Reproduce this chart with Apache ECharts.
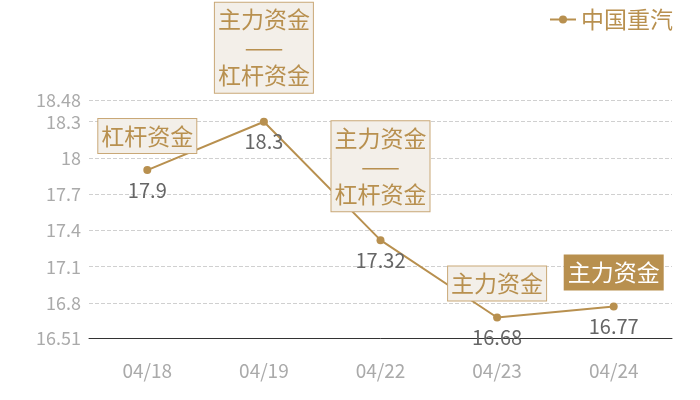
<!DOCTYPE html>
<html>
<head>
<meta charset="utf-8">
<script src="https://cdn.jsdelivr.net/npm/echarts@6/dist/echarts.min.js"></script>
<style>
html, body { margin: 0; padding: 0; background: #fff; }
#main { width: 700px; height: 400px; }
</style>
</head>
<body>
<div id="main"></div>
<script>
var days = ['04/18', '04/19', '04/22', '04/23', '04/24'];
var prices = [17.9, 18.3, 17.32, 16.68, 16.77];
var yTicks = [16.51, 16.8, 17.1, 17.4, 17.7, 18, 18.3, 18.48];
var notes = ['杠杆资金', '主力资金\n——\n杠杆资金', '主力资金\n——\n杠杆资金', '主力资金', '主力资金'];
var highlight = [false, false, false, false, true];

var gold = '#b8904f';
var font = '"Noto Sans CJK SC", "Noto Sans", sans-serif';

var myChart = echarts.init(document.getElementById('main'));

var marks = [];
for (var i = 0; i < days.length; i++) {
    var multi = notes[i].indexOf('\n') >= 0;
    marks.push({
        coord: [days[i], prices[i]],
        value: notes[i],
        label: {
            distance: multi ? 29 : 17,
            color: highlight[i] ? '#fff' : gold,
            backgroundColor: highlight[i] ? gold : '#f3efe9',
            borderColor: highlight[i] ? gold : '#c9a877'
        }
    });
}

var option = {
    animation: false,
    textStyle: { fontFamily: font },
    legend: {
        right: 22,
        top: 3,
        itemWidth: 26,
        itemHeight: 10,
        itemGap: 8,
        textStyle: { color: gold, fontSize: 23, fontFamily: font },
        data: ['中国重汽']
    },
    grid: {
        left: 89,
        right: 28,
        top: 100,
        bottom: 62
    },
    xAxis: {
        type: 'category',
        data: days,
        axisTick: { show: false },
        axisLine: { lineStyle: { color: '#333', width: 1 } },
        axisLabel: { color: '#aaa', fontSize: 19, margin: 23, fontFamily: font }
    },
    yAxis: {
        type: 'value',
        min: yTicks[0],
        max: yTicks[yTicks.length - 1],
        axisLine: { show: false },
        axisTick: { show: false, customValues: yTicks },
        axisLabel: {
            color: '#aaa',
            fontSize: 18,
            margin: 8,
            fontFamily: font,
            customValues: yTicks
        },
        splitLine: { lineStyle: { color: '#d0d0d0', type: 'dashed' } }
    },
    series: [
        {
            name: '中国重汽',
            type: 'line',
            data: prices,
            symbol: 'circle',
            symbolSize: 8,
            itemStyle: { color: gold },
            lineStyle: { color: gold, width: 2 },
            label: {
                show: true,
                position: 'bottom',
                distance: 6,
                color: '#666',
                fontSize: 20,
                fontFamily: font
            },
            markPoint: {
                symbol: 'circle',
                symbolSize: 0,
                label: {
                    show: true,
                    position: 'top',
                    fontSize: 23,
                    lineHeight: 28,
                    padding: [3, 3, 3, 3],
                    borderWidth: 1,
                    align: 'center',
                    fontFamily: font,
                    formatter: function (p) { return p.value; }
                },
                data: marks
            }
        }
    ]
};

myChart.setOption(option);
</script>
</body>
</html>
